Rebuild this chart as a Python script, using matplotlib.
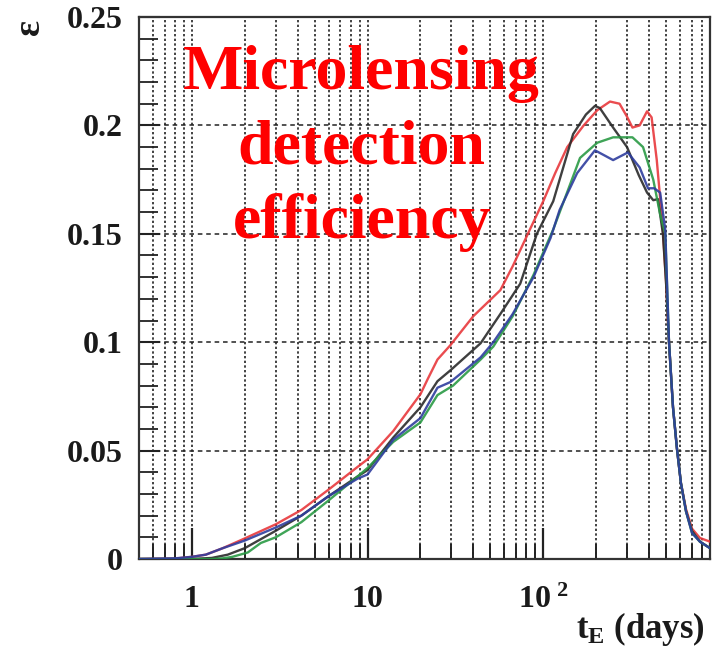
import numpy as np
import matplotlib
matplotlib.use("Agg")
import matplotlib.pyplot as plt
from matplotlib.ticker import LogLocator, MultipleLocator, FixedLocator, NullFormatter

plt.rcParams['mathtext.fontset'] = 'custom'
plt.rcParams['mathtext.rm'] = 'Liberation Serif:bold'
plt.rcParams['mathtext.bf'] = 'Liberation Serif:bold'
plt.rcParams['mathtext.it'] = 'Liberation Serif:bold'

# ---- data ----
red_t = [0.5, 0.8, 1.0, 1.2, 1.5, 2.0, 3.0, 4.2, 6.0, 8.75, 10, 14, 20, 22, 25, 29.6, 40, 57, 67, 84, 100, 117, 137,
         170, 203, 240, 272, 300, 322, 354, 390, 414, 443, 480, 500, 520, 548, 577, 608, 650, 703, 780, 890]
red_e = [0.0, 0.0002, 0.001, 0.002, 0.005, 0.0095, 0.016, 0.0226, 0.032, 0.0424, 0.046, 0.059, 0.076, 0.083, 0.092,
         0.0986, 0.112, 0.124, 0.135, 0.152, 0.165, 0.178, 0.190, 0.200, 0.207, 0.211, 0.210, 0.204, 0.199, 0.200,
         0.2065, 0.2037, 0.184, 0.152, 0.128, 0.100, 0.070, 0.051, 0.035, 0.023, 0.014, 0.0097, 0.008]

black_t = [0.5, 1.0, 1.3, 1.6, 2.0, 3.0, 4.2, 6.0, 8.75, 10, 14, 20, 25, 29.6, 44, 57, 74, 92, 114, 148, 175, 197,
           210, 250, 300, 350, 390, 423, 450, 480, 500, 520, 548, 577, 608, 650, 703, 780, 890]
black_e = [0.0, 0.0, 0.0005, 0.002, 0.005, 0.013, 0.020, 0.029, 0.038, 0.041, 0.056, 0.070, 0.082, 0.087, 0.0995,
           0.113, 0.127, 0.150, 0.165, 0.196, 0.205, 0.209, 0.208, 0.199, 0.190, 0.177, 0.169, 0.1655, 0.166,
           0.150, 0.128, 0.100, 0.070, 0.051, 0.035, 0.022, 0.013, 0.008, 0.005]

green_t = [0.5, 1.0, 1.3, 1.5, 1.7, 2.08, 2.47, 3.0, 4.2, 6.0, 8.75, 10, 14, 20, 25, 30.7, 44, 52, 67, 88, 114, 162,
           203, 250, 322, 370, 423, 463, 495, 520, 548, 577, 608, 650, 703, 780, 890]
green_e = [0.0, 0.0, 0.0, 0.0003, 0.001, 0.003, 0.0074, 0.010, 0.017, 0.027, 0.038, 0.042, 0.054, 0.063, 0.0756,
           0.080, 0.092, 0.098, 0.112, 0.131, 0.152, 0.185, 0.192, 0.1945, 0.1945, 0.190, 0.175, 0.159, 0.150,
           0.100, 0.070, 0.051, 0.035, 0.022, 0.012, 0.008, 0.005]

blue_t = [0.5, 0.8, 1.0, 1.2, 1.5, 2.0, 3.0, 4.2, 6.0, 8.75, 10, 14, 20, 25, 29.6, 44, 52, 67, 88, 110, 124, 156,
          197, 225, 250, 303, 354, 395, 428, 463, 495, 520, 548, 577, 608, 650, 703, 780, 890]
blue_e = [0.0, 0.0003, 0.001, 0.002, 0.005, 0.0085, 0.0145, 0.020, 0.029, 0.037, 0.039, 0.055, 0.065, 0.079, 0.0816,
          0.093, 0.100, 0.113, 0.130, 0.148, 0.161, 0.178, 0.1885, 0.186, 0.184, 0.1875, 0.1806, 0.171, 0.171,
          0.169, 0.152, 0.100, 0.070, 0.051, 0.035, 0.022, 0.012, 0.008, 0.005]

series_colors = {'red': '#e8383c', 'black': '#2a2a2a', 'green': '#2a9a45', 'blue': '#2e3d9e'}

x_tick_values = [1, 10, 100]
x_tick_labels = ['1', '10', r'$10^{\ 2}$']
y_tick_values = [0, 0.05, 0.1, 0.15, 0.2, 0.25]
y_tick_labels = ['0', '0.05', '0.1', '0.15', '0.2', '0.25']

title_text = "Microlensing\ndetection\nefficiency"
y_label = "ε"
x_label = r"$\mathbf{t_{E}}$ (days)"

# ---- figure ----
fig = plt.figure(figsize=(7.14, 6.49), dpi=100)
ax = fig.add_axes([139 / 714, 1 - 559 / 649, (710 - 139) / 714, (559 - 17) / 649])
ax.set_xscale('log')
ax.set_xlim(0.5, 890)
ax.set_ylim(0, 0.25)

serif = ['Liberation Serif', 'DejaVu Serif']

# grid
for t in [v * 10 ** k for k in range(-1, 3) for v in range(1, 10)]:
    if 0.5 < t < 890:
        ax.axvline(t, color='#222222', lw=1.2, ls=(0, (1.4, 1.4)), zorder=1)
for y in y_tick_values[1:-1]:
    ax.axhline(y, color='#222222', lw=1.1, ls=(0, (3, 2.5)), zorder=1)

for (t, e, c) in [(red_t, red_e, 'red'), (black_t, black_e, 'black'),
                  (green_t, green_e, 'green'), (blue_t, blue_e, 'blue')]:
    ax.plot(t, e, color=series_colors[c], lw=1.7, alpha=0.9, zorder=3, solid_joinstyle='round')

# ticks
ax.xaxis.set_major_locator(FixedLocator(x_tick_values))
ax.xaxis.set_minor_locator(LogLocator(base=10, subs=np.arange(2, 10)))
ax.xaxis.set_minor_formatter(NullFormatter())
ax.set_xticklabels(x_tick_labels)
ax.yaxis.set_major_locator(FixedLocator(y_tick_values))
ax.yaxis.set_minor_locator(MultipleLocator(0.01))
ax.set_yticklabels(y_tick_labels)

ax.tick_params(axis='x', which='major', direction='in', length=22, width=1.6, pad=19, colors='#222222')
ax.tick_params(axis='x', which='minor', direction='in', length=11, width=1.4, colors='#222222')
ax.tick_params(axis='y', which='major', direction='in', length=15, width=1.5, pad=12, colors='#222222')
ax.tick_params(axis='y', which='minor', direction='in', length=14, width=1.3, colors='#222222')
for lab in ax.get_xticklabels() + ax.get_yticklabels():
    lab.set_fontfamily(serif)
    lab.set_fontweight('bold')
    lab.set_fontsize(23)
    lab.set_color('#1a1a1a')

for sp in ax.spines.values():
    sp.set_color('#333333')
    sp.set_linewidth(1.6)

# labels
fig.text(29 / 714, 1 - 27 / 649, y_label, rotation=90, fontsize=27, family=serif, fontweight='bold',
         ha='center', va='center', color='#1a1a1a')
fig.text(705 / 714, 1 - 638 / 649, x_label, fontsize=25, family=serif, fontweight='bold',
         ha='right', va='baseline', color='#1a1a1a')

# title
ax.text(0.39, 0.948, title_text, transform=ax.transAxes, fontsize=46, family=serif,
        fontweight='bold', color='#ff0000', ha='center', va='top', linespacing=1.36, zorder=4)

fig.savefig('out.png', dpi=100)
